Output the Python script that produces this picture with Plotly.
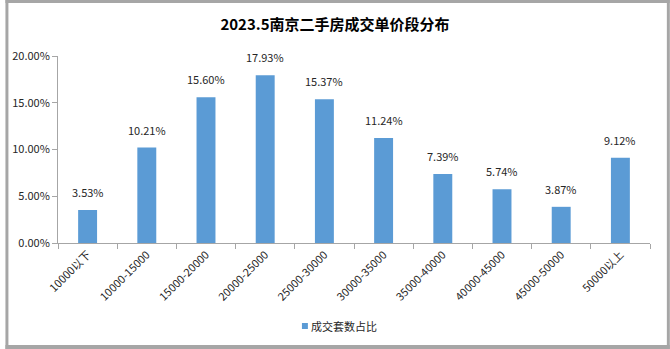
import plotly.graph_objects as go

categories = ["10000以下", "10000-15000", "15000-20000", "20000-25000", "25000-30000",
              "30000-35000", "35000-40000", "40000-45000", "45000-50000", "50000以上"]
share_pct = [3.53, 10.21, 15.60, 17.93, 15.37, 11.24, 7.39, 5.74, 3.87, 9.12]
y_ticks = [0, 5, 10, 15, 20]
series_name = "成交套数占比"

W, H = 670, 349
ML, MR, MT, MB = 53, 20, 56, 106
PW, PH = W - ML - MR, H - MT - MB

font_family = "Noto Sans CJK SC, Noto Sans, sans-serif"
bar_color = "#5b9bd5"
text_color = "#262626"

def px_x(p):
    return (p - ML) / PW

def px_y(p):
    return 1 - (p - MT) / PH

fig = go.Figure()
fig.add_trace(go.Bar(
    x=categories,
    y=[v / 100 for v in share_pct],
    name=series_name,
    showlegend=False,
    marker=dict(color=bar_color, line=dict(width=0)),
))

# value labels above each bar
for c, v in zip(categories, share_pct):
    fig.add_annotation(x=c, y=v / 100, text=f"{v:.2f}%", showarrow=False,
                       yanchor="bottom", yshift=8,
                       font=dict(size=11, color=text_color, family=font_family))

# compact legend: small square key followed by the series name
fig.add_shape(type="rect", xref="paper", yref="paper",
              x0=px_x(299), x1=px_x(305), y0=px_y(329), y1=px_y(323),
              fillcolor=bar_color, line=dict(width=0))
fig.add_annotation(xref="paper", yref="paper", x=px_x(306), y=px_y(326),
                   xanchor="left", yanchor="middle", showarrow=False,
                   text=series_name, font=dict(size=11, color=text_color, family=font_family))

# outer gray frame around the whole figure
bw = 3
frame = "#a6a6a6"
for x0, y0, x1, y1 in [(0, 0, W, bw), (0, H - bw - 1, W, H), (0, 0, bw, H), (W - bw, 0, W, H)]:
    fig.add_shape(type="rect", xref="paper", yref="paper",
                  x0=px_x(x0), x1=px_x(x1), y0=px_y(y1), y1=px_y(y0),
                  fillcolor=frame, line=dict(width=0), layer="above")

fig.update_layout(
    width=W, height=H,
    margin=dict(l=ML, r=MR, t=MT, b=MB),
    paper_bgcolor="white", plot_bgcolor="white",
    font=dict(family=font_family, size=11, color=text_color),
    title=dict(text="<b>2023.5南京二手房成交单价段分布</b>", x=0.5, xanchor="center",
               y=1 - 25 / H, yanchor="middle",
               font=dict(size=15, color="black", family=font_family)),
    bargap=0.68,
    showlegend=False,
    xaxis=dict(type="category", tickangle=-45, showline=True, linecolor="#a6a6a6",
               ticks="outside", tickson="boundaries", ticklen=5, tickcolor="#a6a6a6",
               showgrid=False, tickfont=dict(size=11, color=text_color)),
    yaxis=dict(range=[0, 0.2], tickvals=[t / 100 for t in y_ticks], tickformat=".2%",
               showline=True, linecolor="#a6a6a6", ticks="outside", ticklen=5,
               tickcolor="#a6a6a6", showgrid=False, zeroline=False,
               tickfont=dict(size=11, color=text_color)),
)

fig.write_html("out.html")
